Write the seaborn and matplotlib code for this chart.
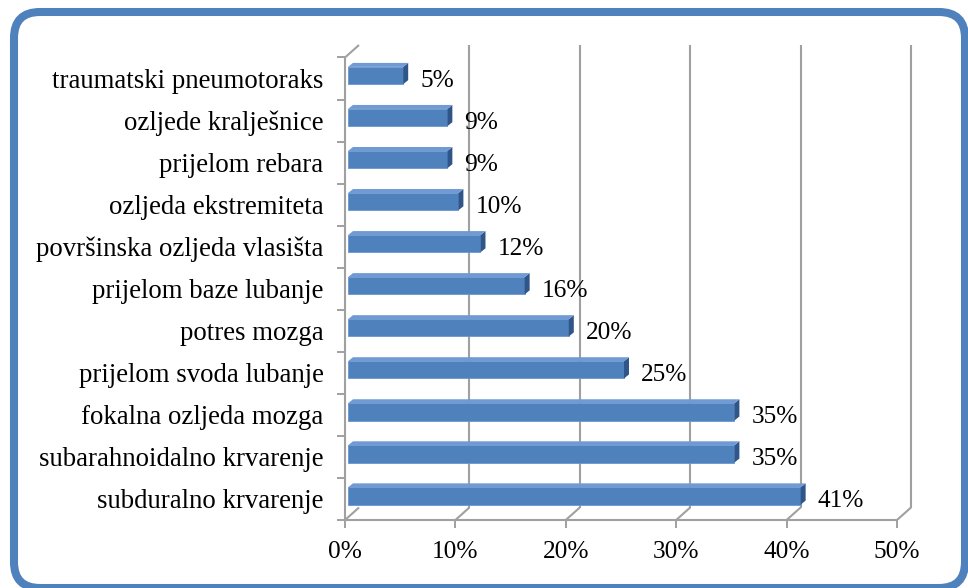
import numpy as np
import pandas as pd
import matplotlib
matplotlib.use("Agg")
import matplotlib.pyplot as plt
import seaborn as sns
from matplotlib.patches import Polygon, FancyBboxPatch
from matplotlib.transforms import IdentityTransform, offset_copy
from matplotlib.lines import Line2D

categories = ["traumatski pneumotoraks", "ozljede kralješnice", "prijelom rebara",
              "ozljeda ekstremiteta", "površinska ozljeda vlasišta", "prijelom baze lubanje",
              "potres mozga", "prijelom svoda lubanje", "fokalna ozljeda mozga",
              "subarahnoidalno krvarenje", "subduralno krvarenje"]
values = [5, 9, 9, 10, 12, 16, 20, 25, 35, 35, 41]
value_labels = ["5%", "9%", "9%", "10%", "12%", "16%", "20%", "25%", "35%", "35%", "41%"]
xticks = [0, 10, 20, 30, 40, 50]
xtick_labels = ["0%", "10%", "20%", "30%", "40%", "50%"]

sns.set_theme(style="white")
plt.rcParams['font.family'] = ['Liberation Serif', 'DejaVu Serif']

W, H = 968, 588
fig = plt.figure(figsize=(W / 100, H / 100), dpi=100)
fig.patch.set_facecolor("white")
ax = fig.add_axes([345 / W, 68 / H, 552 / W, 462.5 / H])
ax.set_facecolor("none")

df = pd.DataFrame({"cat": categories, "val": values})
sns.barplot(data=df, x="val", y="cat", orient="h", width=0.41, color="#4F81BD",
            saturation=1, ax=ax, zorder=3)
ax.set_xlim(0, 50)
ax.set_ylim(10.5, -0.5)
for s in ax.spines.values():
    s.set_visible(False)
ax.set_xlabel("")
ax.set_ylabel("")

grid_color = "#A0A0A0"
ax.set_xticks(xticks)
ax.set_xticklabels(xtick_labels, fontsize=18.3, color="black")
ax.tick_params(axis="x", direction="out", length=5.8, width=1.4, color=grid_color, pad=9.5,
               bottom=True)
ax.set_yticks(range(len(categories)))
ax.set_yticklabels(categories, fontsize=19.3, color="black")
ax.tick_params(axis="y", which="major", length=0, pad=15.5, left=True)
ax.set_yticks(np.arange(-0.5, len(categories) + 0.5, 1), minor=True)
ax.tick_params(axis="y", which="minor", direction="out", length=5.8, width=1.4,
               color=grid_color, left=True)

# 3D geometry (pixel offsets)
DEPTH = (14, 12.5)
BAR_OFF = (3, 3)
BAR_DEPTH = (5, 4)

def disp(x, y):
    return ax.transData.transform((x, y))

def line(p0, p1, z=1):
    ln = Line2D([p0[0], p1[0]], [p0[1], p1[1]], transform=IdentityTransform(),
                color=grid_color, lw=1.5, zorder=z, clip_on=False,
                solid_capstyle="butt")
    ax.add_line(ln)

ybot, ytop = 10.5, -0.5
line(disp(0, ybot), disp(50, ybot))
line(disp(0, ybot), disp(0, ytop))
p = disp(0, ytop)
line(p, (p[0] + DEPTH[0], p[1] + DEPTH[1]))
for xt in xticks:
    f = disp(xt, ybot)
    b = (f[0] + DEPTH[0], f[1] + DEPTH[1])
    line(f, b)
    if xt > 0:
        t = disp(xt, ytop)
        line(b, (t[0] + DEPTH[0], t[1] + DEPTH[1]))

shift = offset_copy(ax.transData, fig=fig, x=BAR_OFF[0], y=BAR_OFF[1], units="dots")
for bar in ax.patches:
    bar.set_transform(shift)
    bar.set_edgecolor("#6A96CF")
    bar.set_linewidth(0.6)
    x0, y0 = bar.get_x(), bar.get_y()
    w, h = bar.get_width(), bar.get_height()
    bR = disp(x0 + w, y0 + h)
    tR = disp(x0 + w, y0)
    tL = disp(x0, y0)
    ox, oy = BAR_OFF
    dx, dy = BAR_DEPTH
    bRf = (bR[0] + ox, bR[1] + oy)
    tRf = (tR[0] + ox, tR[1] + oy)
    tLf = (tL[0] + ox, tL[1] + oy)
    right = Polygon([bRf, tRf, (tRf[0] + dx, tRf[1] + dy), (bRf[0] + dx, bRf[1] + dy)],
                    closed=True, transform=IdentityTransform(), facecolor="#2F5589",
                    edgecolor="none", zorder=3, clip_on=False)
    top = Polygon([tLf, tRf, (tRf[0] + dx, tRf[1] + dy), (tLf[0] + dx, tLf[1] + dy)],
                  closed=True, transform=IdentityTransform(), facecolor="#6F9AD3",
                  edgecolor="none", zorder=3, clip_on=False)
    ax.add_patch(right)
    ax.add_patch(top)

for i, (v, lbl) in enumerate(zip(values, value_labels)):
    ax.annotate(lbl, xy=(v, i), xytext=(20, -2), textcoords="offset pixels",
                ha="left", va="center", fontsize=18.3, color="black", zorder=5)

frame = FancyBboxPatch((14, 0), 951, 576, boxstyle="round,pad=0,rounding_size=26",
                       transform=IdentityTransform(), facecolor="none",
                       edgecolor="#4F81BD", linewidth=5.8, zorder=10)
fig.add_artist(frame)

fig.savefig("out.png", dpi=100, facecolor="white")
